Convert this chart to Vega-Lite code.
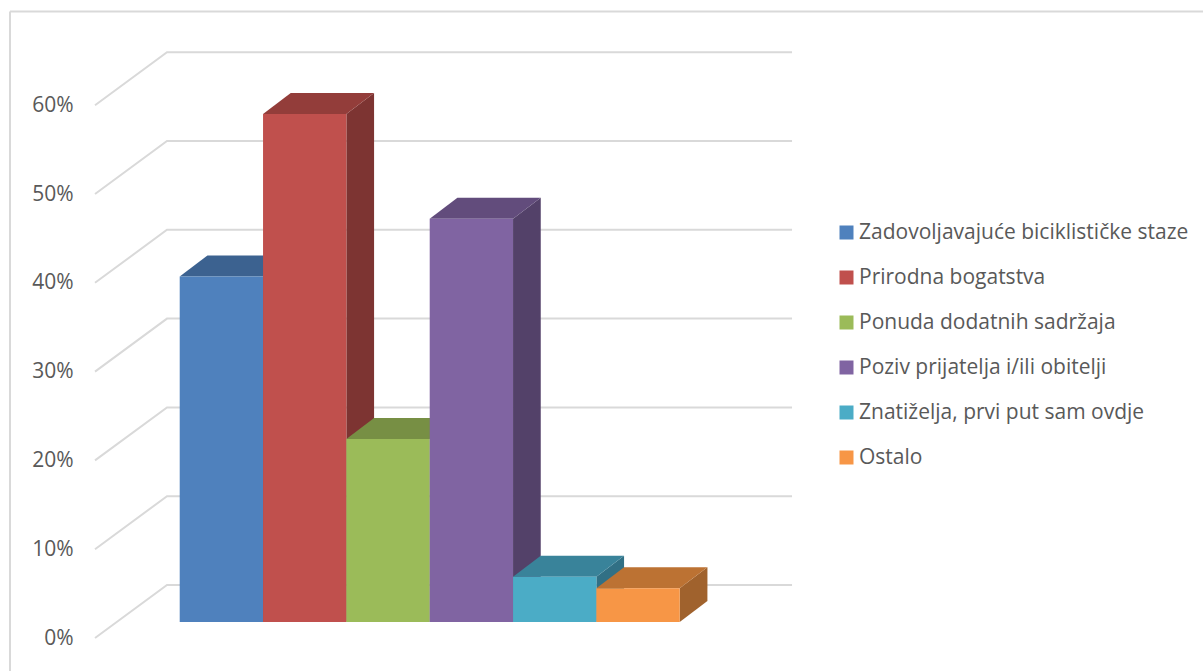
{
"$schema":"https://vega.github.io/schema/vega-lite/v6.json",
"width":1203,"height":671,"padding":0,"autosize":{"type":"none"},
"background":"#ffffff",
"view":{"stroke":null},
"config":{"font":"Open Sans",
 "axisY":{"format":".0%","domain":false,"ticks":false,"grid":false,"title":null,"offset":-73,"labelPadding":0,"labelFontSize":21,"labelColor":"#595959","labelFont":"Open Sans"}},
"datasets":{
 "bars":[
  {"category":"Zadovoljavajuće biciklističke staze","order":0,"share":0.389},
  {"category":"Prirodna bogatstva","order":1,"share":0.572},
  {"category":"Ponuda dodatnih sadržaja","order":2,"share":0.206},
  {"category":"Poziv prijatelja i/ili obitelji","order":3,"share":0.454},
  {"category":"Znatiželja, prvi put sam ovdje","order":4,"share":0.051},
  {"category":"Ostalo","order":5,"share":0.038}
 ],
 "ticks":[{"tick":0},{"tick":0.1},{"tick":0.2},{"tick":0.3},{"tick":0.4},{"tick":0.5},{"tick":0.6}]
},
"layer":[
 {"data":{"values":[{"a":1}]},"mark":{"type":"rule","stroke":"#d9d9d9","strokeWidth":2},
  "encoding":{"x":{"datum":-2.0365,"type":"quantitative","scale":{"domain":[-2.1565,12.2795]},"axis":null},
   "y":{"datum":0.7055,"type":"quantitative","scale":{"domain":[-0.03716,0.71847]},"axis":{"values":[0,0.1,0.2,0.3,0.4,0.5,0.6]}},
   "y2":{"datum":-0.03716}}},
 {"data":{"values":[{"a":1}]},"mark":{"type":"rule","stroke":"#d9d9d9","strokeWidth":2},
  "encoding":{"x":{"datum":-2.0365,"type":"quantitative","scale":{"domain":[-2.1565,12.2795]},"axis":null},
   "x2":{"datum":12.2795},
   "y":{"datum":0.7055,"type":"quantitative","scale":{"domain":[-0.03716,0.71847]},"axis":{"values":[0,0.1,0.2,0.3,0.4,0.5,0.6]}}}},
 {"data":{"name":"ticks"},
  "transform":[{"calculate":"[0,1,2]","as":"t"},{"flatten":["t"]},
   {"calculate":"datum.t==0?-1.0164:(datum.t==1?-0.1524:7.348)","as":"gx"},
   {"calculate":"datum.tick+(datum.t==0?0:0.0597)","as":"gy"}],
  "mark":{"type":"line","stroke":"#d9d9d9","strokeWidth":2},
  "encoding":{"x":{"field":"gx","type":"quantitative","scale":{"domain":[-2.1565,12.2795]},"axis":null},
   "y":{"field":"gy","type":"quantitative","scale":{"domain":[-0.03716,0.71847]},"axis":{"values":[0,0.1,0.2,0.3,0.4,0.5,0.6]}},
   "detail":{"field":"tick","type":"nominal"}}},
 {"data":{"name":"bars"},
  "transform":[{"calculate":"[0,1]","as":"t"},{"flatten":["t"]},
   {"calculate":"datum.order+1+datum.t*0.3324","as":"sx"},
   {"calculate":"0.018+datum.t*0.02365","as":"sb"},
   {"calculate":"datum.share+datum.sb","as":"st"}],
  "mark":{"type":"area","orient":"vertical","opacity":1},
  "encoding":{"x":{"field":"sx","type":"quantitative","scale":{"domain":[-2.1565,12.2795]},"axis":null},
   "y":{"field":"st","type":"quantitative","scale":{"domain":[-0.03716,0.71847]},"axis":{"values":[0,0.1,0.2,0.3,0.4,0.5,0.6]}},
   "y2":{"field":"sb"},
   "color":{"field":"category","type":"nominal","legend":null,
    "scale":{"domain":["Zadovoljavajuće biciklističke staze","Prirodna bogatstva","Ponuda dodatnih sadržaja","Poziv prijatelja i/ili obitelji","Znatiželja, prvi put sam ovdje","Ostalo"],
     "range":["#335379","#7d3432","#657a3a","#534169","#317085","#a0622d"]}}}},
 {"data":{"name":"bars"},
  "transform":[{"calculate":"[0,1]","as":"t"},{"flatten":["t"]},
   {"calculate":"datum.order+datum.t*0.3324","as":"tx"},
   {"calculate":"datum.order+1+datum.t*0.3324","as":"tx2"},
   {"calculate":"datum.share+0.018+datum.t*0.02365","as":"ty"}],
  "mark":{"type":"area","orient":"horizontal","opacity":1},
  "encoding":{"x":{"field":"tx","type":"quantitative","scale":{"domain":[-2.1565,12.2795]},"axis":null},
   "x2":{"field":"tx2"},
   "y":{"field":"ty","type":"quantitative","scale":{"domain":[-0.03716,0.71847]},"axis":{"values":[0,0.1,0.2,0.3,0.4,0.5,0.6]}},
   "color":{"field":"category","type":"nominal","legend":null,
    "scale":{"domain":["Zadovoljavajuće biciklističke staze","Prirodna bogatstva","Ponuda dodatnih sadržaja","Poziv prijatelja i/ili obitelji","Znatiželja, prvi put sam ovdje","Ostalo"],
     "range":["#3c6290","#933d3a","#778f44","#624c7c","#39839a","#bc7233"]}}}},
 {"data":{"name":"bars"},
  "transform":[{"calculate":"datum.order+1","as":"fx2"},
   {"calculate":"datum.share+0.018","as":"ft"},{"calculate":"0.018","as":"fb"}],
  "mark":{"type":"rect"},
  "encoding":{"x":{"field":"order","type":"quantitative","scale":{"domain":[-2.1565,12.2795]},"axis":null},
   "x2":{"field":"fx2"},
   "y":{"field":"ft","type":"quantitative","scale":{"domain":[-0.03716,0.71847]},"axis":{"values":[0,0.1,0.2,0.3,0.4,0.5,0.6]}},
   "y2":{"field":"fb"},
   "color":{"field":"category","type":"nominal",
    "scale":{"domain":["Zadovoljavajuće biciklističke staze","Prirodna bogatstva","Ponuda dodatnih sadržaja","Poziv prijatelja i/ili obitelji","Znatiželja, prvi put sam ovdje","Ostalo"],
     "range":["#4f81bd","#c0504d","#9bbb59","#8064a2","#4bacc6","#f79646"]},
    "legend":{"title":null,"orient":"none","legendX":836,"legendY":222,"symbolType":"square","symbolSize":196,"symbolStrokeWidth":0,"labelFontSize":21,"labelColor":"#595959","labelFont":"Open Sans","rowPadding":23,"labelOffset":2,"padding":0,"labelLimit":400}}}}
],
"resolve":{"scale":{"color":"independent"}}
}
